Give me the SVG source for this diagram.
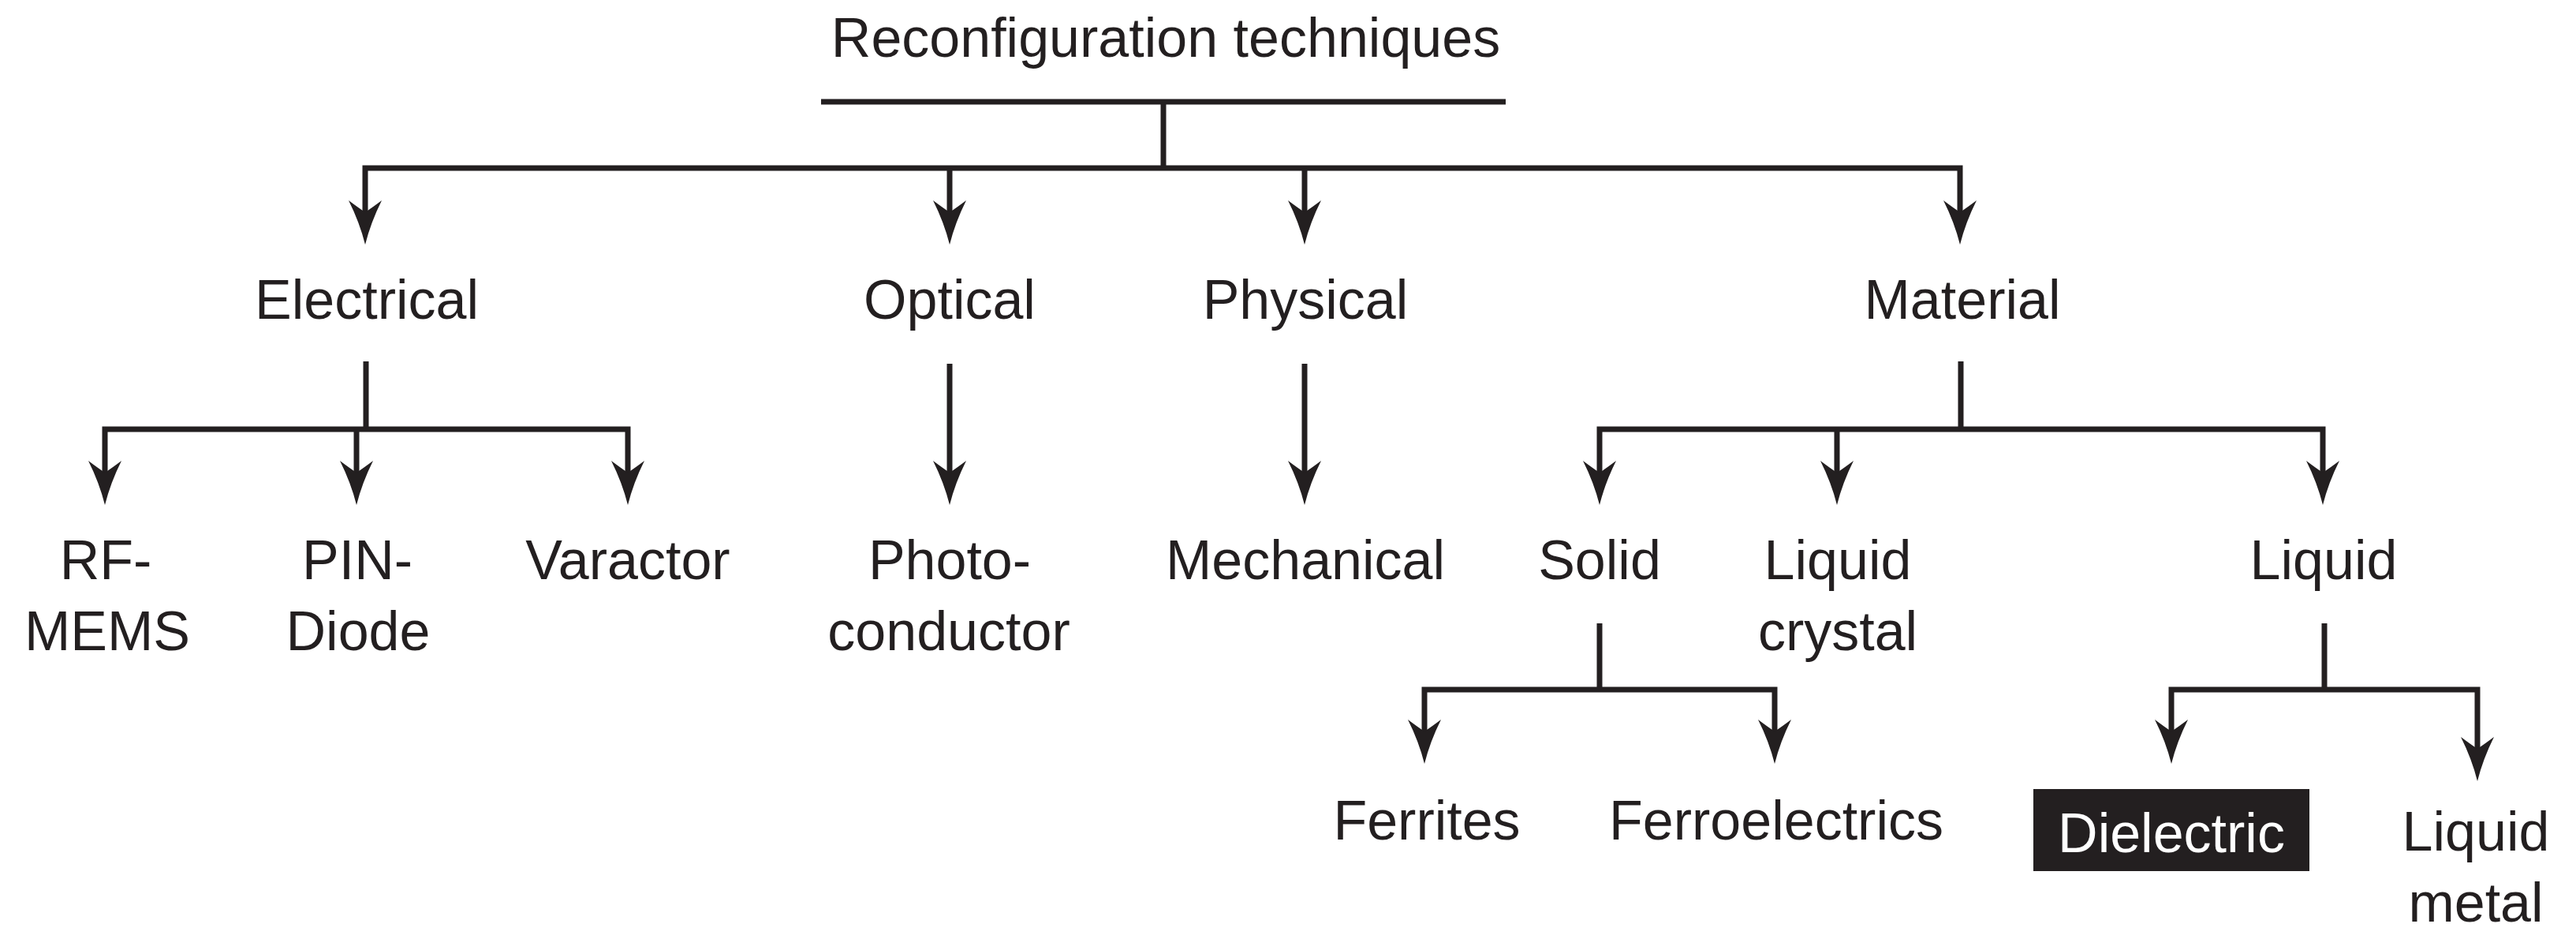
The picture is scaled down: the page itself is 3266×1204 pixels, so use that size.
<svg xmlns="http://www.w3.org/2000/svg" width="3266" height="1204" viewBox="0 0 3266 1204">
<style>
text{font-family:"Liberation Sans",Arial,sans-serif;font-size:70px;fill:#231f20;text-anchor:middle}
.w{fill:#ffffff}
.c{fill:none;stroke:#231f20;stroke-width:7;stroke-linejoin:miter}
.ah{fill:#231f20}
</style>
<defs>
<path id="ah" d="M0,0 Q-7,-28 -21,-56 Q-9,-47 0,-41 Q9,-47 21,-56 Q7,-28 0,0 Z"/>
</defs>
<rect width="3266" height="1204" fill="#ffffff"/>
<g id="connectors">
<path class="c" d="M1041,129 H1909 M1475,129 V213"/>
<path class="c" d="M463,270 V213 H2485 V270 M1204,213 V270 M1654,213 V270"/>
<path class="c" d="M464,458 V544 M133,600 V544 H796 V600 M452,544 V600"/>
<path class="c" d="M1204,461 V600 M1654,461 V600"/>
<path class="c" d="M2486,458 V544 M2028,600 V544 H2945 V600 M2329,544 V600"/>
<path class="c" d="M2028,790 V874 M1806,928 V874 H2250 V928"/>
<path class="c" d="M2947,790 V874 M2753,928 V874 H3141 V950"/>
<g class="ah">
<use href="#ah" transform="translate(463,310)"/>
<use href="#ah" transform="translate(1204,310)"/>
<use href="#ah" transform="translate(1654,310)"/>
<use href="#ah" transform="translate(2485,310)"/>
<use href="#ah" transform="translate(133,640)"/>
<use href="#ah" transform="translate(452,640)"/>
<use href="#ah" transform="translate(796,640)"/>
<use href="#ah" transform="translate(1204,640)"/>
<use href="#ah" transform="translate(1654,640)"/>
<use href="#ah" transform="translate(2028,640)"/>
<use href="#ah" transform="translate(2329,640)"/>
<use href="#ah" transform="translate(2945,640)"/>
<use href="#ah" transform="translate(1806,968)"/>
<use href="#ah" transform="translate(2250,968)"/>
<use href="#ah" transform="translate(2753,968)"/>
<use href="#ah" transform="translate(3141,990)"/>
</g>
</g>
<g id="root"><text x="1478" y="72">Reconfiguration techniques</text></g>
<g id="electrical"><text x="465" y="404">Electrical</text></g>
<g id="optical"><text x="1204" y="404">Optical</text></g>
<g id="physical"><text x="1655" y="404">Physical</text></g>
<g id="material"><text x="2488" y="404">Material</text></g>
<g id="rfmems"><text x="134" y="734">RF-</text><text x="136" y="824">MEMS</text></g>
<g id="pindiode"><text x="453" y="734">PIN-</text><text x="454" y="824">Diode</text></g>
<g id="varactor"><text x="796" y="734">Varactor</text></g>
<g id="photoconductor"><text x="1204" y="734">Photo-</text><text x="1203" y="824">conductor</text></g>
<g id="mechanical"><text x="1655" y="734">Mechanical</text></g>
<g id="solid"><text x="2028" y="734">Solid</text></g>
<g id="liquidcrystal"><text x="2330" y="734">Liquid</text><text x="2330" y="824">crystal</text></g>
<g id="liquid"><text x="2946" y="734">Liquid</text></g>
<g id="ferrites"><text x="1809" y="1064">Ferrites</text></g>
<g id="ferroelectrics"><text x="2252" y="1064">Ferroelectrics</text></g>
<g id="dielectric"><rect x="2578" y="1000" width="350" height="104" fill="#231f20"/><text class="w" x="2753" y="1080">Dielectric</text></g>
<g id="liquidmetal"><text x="3139" y="1078">Liquid</text><text x="3139" y="1168">metal</text></g>
</svg>
